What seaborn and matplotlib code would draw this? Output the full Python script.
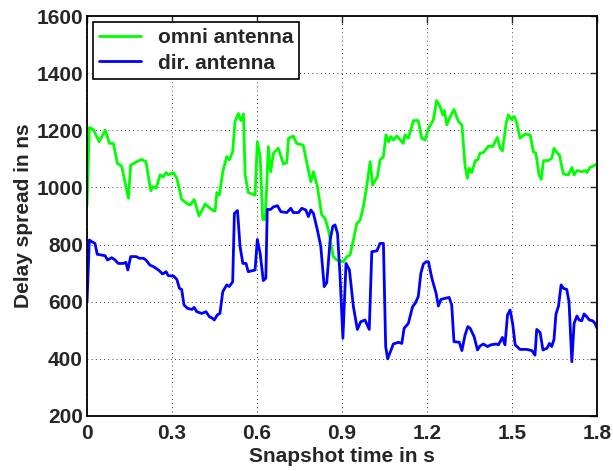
import pandas as pd
import numpy as np
import matplotlib.pyplot as plt
import seaborn as sns

# 数据
omni_t = [0.0, 0.008, 0.022, 0.043, 0.064, 0.079, 0.093, 0.107, 0.122, 0.146, 0.154, 0.175, 0.193, 0.208,
          0.225, 0.232, 0.244, 0.258, 0.269, 0.279, 0.287, 0.305, 0.317, 0.334, 0.352, 0.364, 0.378, 0.395,
          0.417, 0.428, 0.446, 0.452, 0.458, 0.467, 0.479, 0.493, 0.502, 0.514, 0.522, 0.534, 0.543, 0.552,
          0.558, 0.569, 0.593, 0.601, 0.611, 0.620, 0.629, 0.640, 0.648, 0.658, 0.675, 0.693, 0.705, 0.711,
          0.728, 0.740, 0.763, 0.781, 0.790, 0.799, 0.813, 0.828, 0.840, 0.852, 0.869, 0.881, 0.905, 0.917,
          0.928, 0.940, 0.952, 0.964, 0.975, 0.987, 0.999, 1.008, 1.025, 1.034, 1.046, 1.055, 1.064, 1.072,
          1.081, 1.093, 1.116, 1.122, 1.134, 1.152, 1.169, 1.181, 1.193, 1.205, 1.222, 1.234, 1.246, 1.256,
          1.261, 1.270, 1.279, 1.295, 1.311, 1.323, 1.334, 1.342, 1.349, 1.358, 1.370, 1.378, 1.387, 1.399,
          1.417, 1.432, 1.448, 1.458, 1.466, 1.479, 1.487, 1.497, 1.508, 1.517, 1.528, 1.546, 1.564, 1.575,
          1.584, 1.595, 1.603, 1.611, 1.628, 1.640, 1.648, 1.660, 1.667, 1.681, 1.699, 1.711, 1.719, 1.729,
          1.746, 1.758, 1.764, 1.775, 1.793, 1.800]
omni_v = [938, 1210, 1203, 1160, 1201, 1154, 1154, 1084, 1075, 962, 1078, 1090, 1098, 1090,
          988, 1003, 998, 1044, 1036, 1052, 1044, 1052, 1032, 958, 944, 938, 958, 900,
          942, 932, 918, 918, 982, 973, 1055, 1108, 1096, 1125, 1230, 1259, 1234, 1257,
          1044, 982, 973, 1160, 1108, 888, 888, 1143, 1055, 1120, 1137, 1082, 1087, 1172,
          1180, 1154, 1148, 1061, 1020, 1055, 1003, 904, 892, 851, 758, 746, 740, 758,
          763, 816, 874, 886, 932, 1003, 1090, 1008, 1038, 1096, 1108, 1184, 1160, 1178,
          1166, 1180, 1154, 1184, 1172, 1234, 1234, 1172, 1166, 1207, 1236, 1304, 1283, 1254,
          1269, 1219, 1242, 1273, 1230, 1219, 1078, 1032, 1067, 1052, 1094, 1096, 1120, 1122,
          1145, 1143, 1175, 1137, 1128, 1224, 1254, 1238, 1248, 1224, 1172, 1187, 1184, 1125,
          1120, 1044, 1028, 1094, 1094, 1102, 1137, 1120, 1114, 1047, 1044, 1070, 1044, 1059,
          1055, 1059, 1052, 1070, 1078, 1082]

dir_t = [0.0, 0.008, 0.017, 0.028, 0.036, 0.052, 0.064, 0.072, 0.087, 0.099, 0.110, 0.128, 0.137, 0.144,
         0.154, 0.173, 0.185, 0.199, 0.208, 0.222, 0.234, 0.252, 0.267, 0.279, 0.287, 0.305, 0.317, 0.326,
         0.334, 0.342, 0.354, 0.370, 0.378, 0.387, 0.405, 0.420, 0.432, 0.440, 0.449, 0.460, 0.469, 0.479,
         0.493, 0.502, 0.514, 0.520, 0.531, 0.540, 0.550, 0.561, 0.569, 0.585, 0.593, 0.601, 0.611, 0.622,
         0.631, 0.636, 0.648, 0.658, 0.672, 0.684, 0.705, 0.719, 0.728, 0.746, 0.758, 0.772, 0.781, 0.790,
         0.799, 0.813, 0.825, 0.837, 0.846, 0.858, 0.867, 0.875, 0.884, 0.893, 0.903, 0.914, 0.926, 0.940,
         0.954, 0.966, 0.981, 0.996, 1.005, 1.023, 1.034, 1.046, 1.054, 1.061, 1.081, 1.099, 1.111, 1.119,
         1.134, 1.149, 1.158, 1.169, 1.178, 1.187, 1.197, 1.205, 1.217, 1.232, 1.240, 1.249, 1.264, 1.278,
         1.287, 1.295, 1.314, 1.323, 1.334, 1.344, 1.352, 1.366, 1.378, 1.387, 1.399, 1.413, 1.425, 1.444,
         1.452, 1.466, 1.475, 1.484, 1.493, 1.502, 1.511, 1.528, 1.552, 1.570, 1.581, 1.587, 1.599, 1.609,
         1.623, 1.632, 1.640, 1.648, 1.655, 1.664, 1.673, 1.681, 1.693, 1.701, 1.711, 1.719, 1.729, 1.737,
         1.746, 1.754, 1.764, 1.773, 1.785, 1.793, 1.800]
dir_v = [600, 816, 810, 804, 766, 763, 761, 746, 754, 746, 734, 734, 738, 711,
         758, 758, 752, 752, 746, 728, 723, 711, 697, 705, 691, 690, 678, 647,
         643, 589, 577, 573, 580, 565, 559, 565, 547, 544, 536, 554, 559, 635,
         659, 653, 670, 909, 919, 793, 734, 734, 705, 709, 711, 818, 769, 674,
         682, 923, 923, 932, 936, 915, 912, 927, 912, 912, 927, 921, 898, 921,
         909, 851, 793, 653, 667, 816, 863, 869, 839, 688, 472, 734, 711, 583,
         503, 530, 536, 503, 775, 778, 804, 804, 443, 400, 452, 458, 454, 507,
         524, 583, 594, 618, 699, 732, 740, 740, 682, 629, 585, 608, 612, 615,
         589, 460, 458, 429, 483, 513, 507, 478, 431, 445, 452, 443, 449, 452,
         449, 475, 449, 554, 571, 524, 449, 433, 433, 429, 413, 503, 492, 431,
         437, 454, 443, 468, 557, 585, 659, 647, 643, 600, 390, 524, 550, 536,
         533, 557, 547, 536, 533, 524, 507]

x_ticks = [0, 0.3, 0.6, 0.9, 1.2, 1.5, 1.8]
y_ticks = [200, 400, 600, 800, 1000, 1200, 1400, 1600]

df = pd.concat([
    pd.DataFrame({'t': omni_t, 'v': omni_v, 'series': 'omni antenna'}),
    pd.DataFrame({'t': dir_t, 'v': dir_v, 'series': 'dir. antenna'}),
])

sns.set_style('white')
plt.rcParams['font.family'] = ['Liberation Sans', 'DejaVu Sans']
plt.rcParams['font.weight'] = 'bold'

fig = plt.figure(figsize=(6.13, 4.71), dpi=100)
ax = fig.add_axes([0.142, 0.1168, 0.832, 0.8492])

sns.lineplot(data=df, x='t', y='v', hue='series', sort=False, estimator=None,
             palette={'omni antenna': '#00ff00', 'dir. antenna': '#0000ff'},
             linewidth=2.0, ax=ax)

ax.set_xlim(0, 1.8)
ax.set_ylim(200, 1600)
ax.set_xticks(x_ticks)
ax.set_xticklabels(['%g' % x for x in x_ticks])
ax.set_yticks(y_ticks)

ax.grid(True, color='black', linestyle=(0, (1, 4)), linewidth=0.6)
ax.tick_params(direction='in', top=True, right=True, length=5, width=1,
               labelsize=15)
ax.tick_params(axis='x', pad=6)
ax.tick_params(axis='y', pad=3)
for lbl in ax.get_xticklabels() + ax.get_yticklabels():
    lbl.set_fontweight('bold')
for s in ax.spines.values():
    s.set_linewidth(1.3)
    s.set_color('black')

ax.set_xlabel('Snapshot time in s', fontsize=15, fontweight='bold', labelpad=3)
ax.set_ylabel('Delay spread in ns', fontsize=15, fontweight='bold', labelpad=2)

leg = ax.legend(loc='upper left', bbox_to_anchor=(0.012, 0.985), borderaxespad=0,
                fancybox=False, framealpha=1, edgecolor='black', fontsize=15,
                handlelength=2.0, borderpad=0.3, labelspacing=0.3, handletextpad=0.8)
leg.get_frame().set_linewidth(1.2)
for txt in leg.get_texts():
    txt.set_fontweight('bold')

plt.savefig('out.png', dpi=100)
